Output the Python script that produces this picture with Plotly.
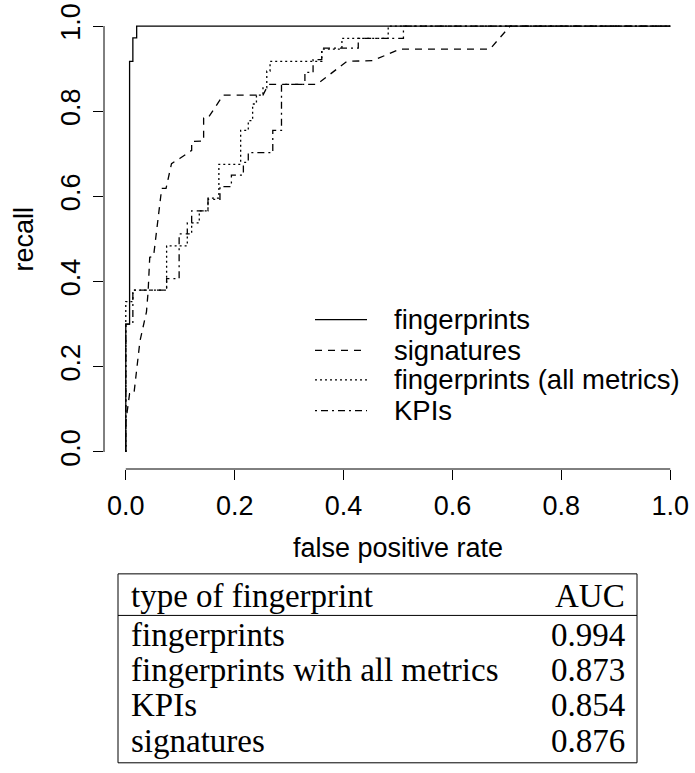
import plotly.graph_objects as go

# ---------------- data ----------------
# step curves (horizontal-then-vertical steps)
fp_fpr = [0, 0, 0.007, 0.013, 0.020, 1.0]
fp_tpr = [0, 0.300, 0.917, 0.972, 1.0, 1.0]

fpall_fpr = [0, 0, 0.013, 0.075, 0.113, 0.121, 0.135, 0.151, 0.171, 0.211,
             0.225, 0.233, 0.240, 0.252, 0.259, 0.265, 0.360, 0.397, 0.482, 1.0]
fpall_tpr = [0, 0.353, 0.380, 0.484, 0.512, 0.538, 0.566, 0.596, 0.675, 0.755,
             0.778, 0.817, 0.838, 0.855, 0.894, 0.917, 0.946, 0.971, 1.0, 1.0]

kpi_fpr = [0, 0, 0.013, 0.075, 0.098, 0.113, 0.121, 0.151, 0.173, 0.194,
           0.216, 0.225, 0.270, 0.286, 0.329, 0.344, 0.360, 0.427, 0.510, 1.0]
kpi_tpr = [0, 0.300, 0.380, 0.407, 0.512, 0.538, 0.566, 0.593, 0.623, 0.650,
           0.680, 0.703, 0.755, 0.863, 0.891, 0.921, 0.948, 0.971, 1.0, 1.0]

# signatures curve (has tied segments -> straight polyline)
sig_fpr = [0, 0, 0.007, 0.015, 0.026, 0.038, 0.041, 0.044, 0.051, 0.066,
           0.074, 0.084, 0.099, 0.112, 0.121, 0.121, 0.143, 0.143, 0.151, 0.179,
           0.252, 0.262, 0.351, 0.406, 0.454, 0.504, 0.669, 0.706, 1.0]
sig_tpr = [0, 0.070, 0.137, 0.137, 0.260, 0.329, 0.376, 0.457, 0.459, 0.619,
           0.619, 0.677, 0.689, 0.700, 0.708, 0.729, 0.730, 0.784, 0.784, 0.838,
           0.838, 0.863, 0.863, 0.917, 0.919, 0.946, 0.946, 1.0, 1.0]

tick_vals = [0, 0.2, 0.4, 0.6, 0.8, 1.0]
tick_text = ["0.0", "0.2", "0.4", "0.6", "0.8", "1.0"]

legend_names = ["fingerprints", "signatures", "fingerprints (all metrics)", "KPIs"]

table_header = ["type of fingerprint", "AUC"]
table_names = ["fingerprints", "fingerprints with all metrics", "KPIs", "signatures"]
table_auc = ["0.994", "0.873", "0.854", "0.876"]

# ---------------- styling ----------------
W, H = 695, 773
PL, PR, PT, PB = 104, 692, 4, 469   # plot area in pixels
SANS = "Liberation Sans, Arial, sans-serif"
SERIF = "Liberation Serif, Times New Roman, serif"
LW = 1.3
DASH_SIG = "7px,6px"
DASH_DOT = "2px,3px"
DASH_DD = "2px,4px,7px,4px"
styles = [("solid", "hv"), (DASH_SIG, "linear"), (DASH_DOT, "hv"), (DASH_DD, "hv")]


def px(xp):
    return (xp - PL) / (PR - PL)


def py(yp):
    return (PB - yp) / (PB - PT)


fig = go.Figure()
series = [(fp_fpr, fp_tpr), (sig_fpr, sig_tpr), (fpall_fpr, fpall_tpr), (kpi_fpr, kpi_tpr)]
for (xs, ys), (dash, shape), name in zip(series, styles, legend_names):
    fig.add_trace(go.Scatter(x=xs, y=ys, mode="lines", name=name,
                             line=dict(color="black", width=LW, dash=dash, shape=shape),
                             showlegend=False, hoverinfo="skip"))

axis_common = dict(range=[-0.04, 1.04], tickvals=tick_vals, ticktext=tick_text,
                   ticks="outside", ticklen=10, tickwidth=1, tickcolor="black",
                   showline=False, showgrid=False, zeroline=False,
                   ticklabeloverflow="allow",
                   tickfont=dict(family=SANS, size=27, color="black"))

shapes = [
    # axis lines spanning the tick range only (R style)
    dict(type="line", xref="x", yref="paper", x0=0, x1=1, y0=0, y1=0,
         line=dict(color="black", width=1)),
    dict(type="line", xref="paper", yref="y", x0=0, x1=0, y0=0, y1=1,
         line=dict(color="black", width=1)),
]
annotations = [
    dict(text="false positive rate", xref="paper", yref="paper",
         x=px(398), y=py(549), xanchor="center", yanchor="middle", showarrow=False,
         font=dict(family=SANS, size=27, color="black")),
    dict(text="recall", xref="paper", yref="paper", textangle=-90,
         x=px(24), y=py(236), xanchor="center", yanchor="middle", showarrow=False,
         font=dict(family=SANS, size=27, color="black")),
]

# legend (drawn like R's legend box without border)
leg_rows = [318, 349, 379, 410]
for name, (dash, _), yrow in zip(legend_names, styles, leg_rows):
    shapes.append(dict(type="line", xref="paper", yref="paper",
                       x0=px(315), x1=px(367), y0=py(yrow), y1=py(yrow),
                       line=dict(color="black", width=LW, dash=dash)))
    annotations.append(dict(text=name, xref="paper", yref="paper", x=px(392), y=py(yrow),
                            xanchor="left", yanchor="middle", showarrow=False,
                            font=dict(family=SANS, size=27.5, color="black")))

# table below the plot
TL, TR, TT, TB = 118, 637, 575, 766
shapes.append(dict(type="rect", xref="paper", yref="paper",
                   x0=px(TL), x1=px(TR), y0=py(TT), y1=py(TB),
                   line=dict(color="black", width=1)))
shapes.append(dict(type="line", xref="paper", yref="paper",
                   x0=px(TL), x1=px(TR), y0=py(617), y1=py(617),
                   line=dict(color="black", width=1)))
row_y = [597, 637, 672, 708, 744]
rows = [table_header] + [[n, a] for n, a in zip(table_names, table_auc)]
for (left, right), yrow in zip(rows, row_y):
    annotations.append(dict(text=left, xref="paper", yref="paper", x=px(129), y=py(yrow),
                            xanchor="left", yanchor="middle", showarrow=False,
                            font=dict(family=SERIF, size=33, color="black")))
    annotations.append(dict(text=right, xref="paper", yref="paper", x=px(627), y=py(yrow),
                            xanchor="right", yanchor="middle", showarrow=False,
                            font=dict(family=SERIF, size=33, color="black")))

fig.update_layout(
    width=W, height=H,
    margin=dict(l=PL, r=W - PR, t=PT, b=H - PB, pad=0),
    paper_bgcolor="white", plot_bgcolor="white",
    xaxis=dict(**axis_common, ticklabelstandoff=3),
    yaxis=dict(**axis_common, tickangle=-90, ticklabelstandoff=2),
    shapes=shapes, annotations=annotations,
    showlegend=False,
)

fig.write_html("out.html", config={"displayModeBar": False},
               post_script="document.body.style.margin='0';document.body.style.overflow='hidden';")
